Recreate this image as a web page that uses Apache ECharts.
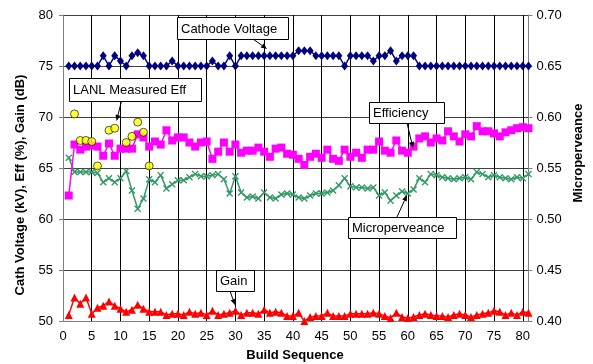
<!DOCTYPE html>
<html>
<head>
<meta charset="utf-8">
<script src="https://cdn.jsdelivr.net/npm/echarts@6/dist/echarts.min.js"></script>
<style>
html,body{margin:0;padding:0;background:#fff;}
#c{width:593px;height:364px;}
</style>
</head>
<body>
<div id="c"></div>
<script>
// ---- data ----
const buildSeq = [1,2,3,4,5,6,7,8,9,10,11,12,13,14,15,16,17,18,19,20,21,22,23,24,25,26,27,28,29,30,31,32,33,34,35,36,37,38,39,40,41,42,43,44,45,46,47,48,49,50,51,52,53,54,55,56,57,58,59,60,61,62,63,64,65,66,67,68,69,70,71,72,73,74,75,76,77,78,79,80,81];
const cathodeVoltage = [75,75,75,75,75,75,76,75,76,75.5,75,76,76.3,76,75,75,75,75,75.5,75,75,75,75,75,75,75.5,75,75,76,75,76,76,76,76,76,76,76,76,76,76,76.5,76.5,76.5,76,76,76,76,76,75,76,76,76,76,75.5,76,76,76.5,75.5,76,76,76,75,75,75,75,75,75,75,75,75,75,75,75,75,75,75,75,75,75,75,75];
const efficiency = [62.3,67.3,66.8,67.1,67.2,67.1,66.2,67.4,66.2,66.9,66.9,66.9,68.3,68.0,67.1,67.6,67.3,68.7,67.7,68.0,68.0,67.5,67.1,67.5,67.6,65.9,66.6,67.5,66.6,67.3,66.5,66.7,66.7,67.0,66.6,66.1,66.9,67.0,66.4,66.3,65.9,65.3,66.1,66.4,66.0,66.8,65.9,65.7,66.8,66.1,66.5,66.0,66.8,66.8,67.6,66.7,66.5,67.7,66.7,66.5,67.1,67.9,68.1,67.5,67.9,67.7,68.6,68.1,67.6,68.3,68.1,69.1,68.6,68.6,68.4,68.1,68.5,68.7,68.9,69.0,68.9];
const microperveance = [0.560,0.546,0.546,0.546,0.546,0.545,0.536,0.540,0.536,0.540,0.547,0.528,0.510,0.520,0.539,0.536,0.543,0.530,0.534,0.538,0.538,0.541,0.544,0.542,0.542,0.543,0.544,0.539,0.525,0.542,0.526,0.521,0.522,0.520,0.526,0.521,0.520,0.524,0.525,0.524,0.521,0.520,0.523,0.525,0.525,0.526,0.528,0.533,0.540,0.532,0.531,0.531,0.530,0.531,0.523,0.526,0.518,0.523,0.527,0.525,0.529,0.540,0.536,0.544,0.543,0.541,0.540,0.539,0.540,0.541,0.539,0.546,0.544,0.541,0.543,0.541,0.540,0.539,0.541,0.540,0.544];
const gain = [50.6,52.3,51.7,52.3,50.7,51.3,51.5,51.9,51.5,51.2,50.9,51.1,51.6,51.2,50.9,50.9,50.9,50.6,50.7,50.7,50.6,50.9,50.7,50.8,50.6,51.0,50.6,50.7,50.8,51.0,50.6,50.8,50.8,50.7,51.1,50.8,50.9,50.8,50.5,50.5,50.8,50.0,50.4,50.5,50.5,50.8,50.5,50.5,50.5,50.7,50.7,50.7,50.7,50.8,50.7,50.5,50.3,50.8,50.4,50.3,50.4,50.6,50.7,50.6,50.5,50.5,50.4,50.6,50.7,50.6,50.4,50.6,50.7,50.8,51.0,50.9,50.6,50.8,50.6,50.9,50.8];
const lanlBuild = [2,3,4,5,6,8,9,11,12,13,14,15];
const lanlEff = [70.3,67.7,67.7,67.6,65.2,68.7,68.9,67.5,68.1,69.5,68.5,65.2];
const leftTicks = [50,55,60,65,70,75,80];
const rightTicks = [0.40,0.45,0.50,0.55,0.60,0.65,0.70];
const xTicks = [0,5,10,15,20,25,30,35,40,45,50,55,60,65,70,75,80];

// ---- chart ----
const FONT = '"Liberation Sans", Arial, sans-serif';
const pairs = arr => buildSeq.map((x, k) => [x, arr[k]]);
const xSym = 'path://M0,1.4 L1.4,0 L5,3.6 L8.6,0 L10,1.4 L6.4,5 L10,8.6 L8.6,10 L5,6.4 L1.4,10 L0,8.6 L3.6,5 Z';

const chart = echarts.init(document.getElementById('c'), null, {renderer: 'canvas'});

const annotations = [
  {text: 'Cathode Voltage', box: [177, 17, 111, 22], arrow: [253, 39, 267, 49]},
  {text: 'LANL Measured Eff', box: [69, 78, 132, 23], arrow: [121.5, 101, 116.5, 121]},
  {text: 'Efficiency', box: [369, 102, 75, 21], arrow: [407, 123, 413, 148]},
  {text: 'Microperveance', box: [348, 217, 108, 21], arrow: [397, 217, 407, 195]},
  {text: 'Gain', box: [216, 270, 38, 21], arrow: [230, 291, 235, 305]}
];

const graphics = [];
annotations.forEach(a => {
  const [bx, by, bw, bh] = a.box;
  graphics.push({type: 'rect', shape: {x: bx + 0.5, y: by + 0.5, width: bw, height: bh},
    style: {fill: '#fff', stroke: '#000', lineWidth: 1}, z: 100});
  graphics.push({type: 'text', x: bx + 4, y: by + bh / 2 + 1,
    style: {text: a.text, font: '13px ' + FONT, fill: '#000', textAlign: 'left', textVerticalAlign: 'middle'}, z: 101});
  const [x1, y1, x2, y2] = a.arrow;
  const ang = Math.atan2(y2 - y1, x2 - x1);
  const L = 6, Wd = 2.5;
  const bxp = x2 - L * Math.cos(ang), byp = y2 - L * Math.sin(ang);
  graphics.push({type: 'line', shape: {x1: x1, y1: y1, x2: bxp, y2: byp},
    style: {stroke: '#000', lineWidth: 1}, z: 100});
  graphics.push({type: 'polygon', shape: {points: [[x2, y2],
      [bxp + Wd * Math.sin(ang), byp - Wd * Math.cos(ang)],
      [bxp - Wd * Math.sin(ang), byp + Wd * Math.cos(ang)]]},
    style: {fill: '#000'}, z: 100});
});
graphics.push({type: 'text', x: 20, y: 185, rotation: Math.PI / 2,
  style: {text: 'Cath Voltage (kV), Eff (%), Gain (dB)', font: 'bold 13px ' + FONT, fill: '#000', textAlign: 'center', textVerticalAlign: 'middle'}});
graphics.push({type: 'text', x: 578, y: 153, rotation: Math.PI / 2,
  style: {text: 'Microperveance', font: 'bold 13px ' + FONT, fill: '#000', textAlign: 'center', textVerticalAlign: 'middle'}});
graphics.push({type: 'text', x: 295, y: 355,
  style: {text: 'Build Sequence', font: 'bold 13px ' + FONT, fill: '#000', textAlign: 'center', textVerticalAlign: 'middle'}});

const labelStyle = {fontFamily: FONT, fontSize: 13, color: '#000'};

chart.setOption({
  animation: false,
  backgroundColor: '#fff',
  grid: {left: 63, right: 64.5, top: 15, bottom: 43, containLabel: false},
  xAxis: {
    type: 'value', min: 0, max: 81, interval: 5,
    axisLine: {show: true, onZero: false, lineStyle: {color: '#808080', width: 1}},
    axisTick: {show: false},
    axisLabel: Object.assign({}, labelStyle, {margin: 9, showMaxLabel: false,
      formatter: v => xTicks.indexOf(v) >= 0 ? String(v) : ''}),
    splitLine: {show: true, lineStyle: {color: '#000', width: 1}}
  },
  yAxis: [
    {
      type: 'value', min: 50, max: 80, interval: 5, position: 'left',
      axisLine: {show: true, lineStyle: {color: '#808080', width: 1}},
      axisTick: {show: true, length: 4, lineStyle: {color: '#808080'}},
      axisLabel: Object.assign({}, labelStyle, {margin: 10,
        formatter: v => leftTicks.indexOf(v) >= 0 ? String(v) : ''}),
      splitLine: {show: true, lineStyle: {color: '#404040', width: 1}}
    },
    {
      type: 'value', min: 0.40, max: 0.70, interval: 0.05, position: 'right',
      axisLine: {show: true, lineStyle: {color: '#808080', width: 1}},
      axisTick: {show: true, length: 4, lineStyle: {color: '#808080'}},
      axisLabel: Object.assign({}, labelStyle, {margin: 8,
        formatter: v => rightTicks.some(t => Math.abs(t - v) < 1e-6) ? v.toFixed(2) : ''}),
      splitLine: {show: false}
    }
  ],
  series: [
    {
      name: 'Microperveance', type: 'line', yAxisIndex: 1, data: pairs(microperveance),
      symbol: xSym, symbolSize: 7, showAllSymbol: true,
      lineStyle: {color: '#339966', width: 1.5},
      itemStyle: {color: '#339966'}, z: 2
    },
    {
      name: 'Efficiency', type: 'line', data: pairs(efficiency),
      symbol: 'rect', symbolSize: 8, showAllSymbol: true,
      lineStyle: {color: '#FF00FF', width: 1.5},
      itemStyle: {color: '#FF00FF'}, z: 3
    },
    {
      name: 'Cathode Voltage', type: 'line', data: pairs(cathodeVoltage),
      symbol: 'diamond', symbolSize: [7, 9], showAllSymbol: true,
      lineStyle: {color: '#000080', width: 1.5},
      itemStyle: {color: '#000080'}, z: 3
    },
    {
      name: 'Gain', type: 'line', data: pairs(gain), clip: false,
      symbol: 'triangle', symbolSize: 8, showAllSymbol: true,
      lineStyle: {color: '#FF0000', width: 1.5},
      itemStyle: {color: '#FF0000'}, z: 3
    },
    {
      name: 'LANL Measured Eff', type: 'scatter', data: lanlBuild.map((x, k) => [x, lanlEff[k]]),
      symbol: 'circle', symbolSize: 8,
      itemStyle: {color: '#FFFF00', borderColor: '#000', borderWidth: 0.8}, z: 4
    }
  ],
  graphic: graphics
});
</script>
</body>
</html>
